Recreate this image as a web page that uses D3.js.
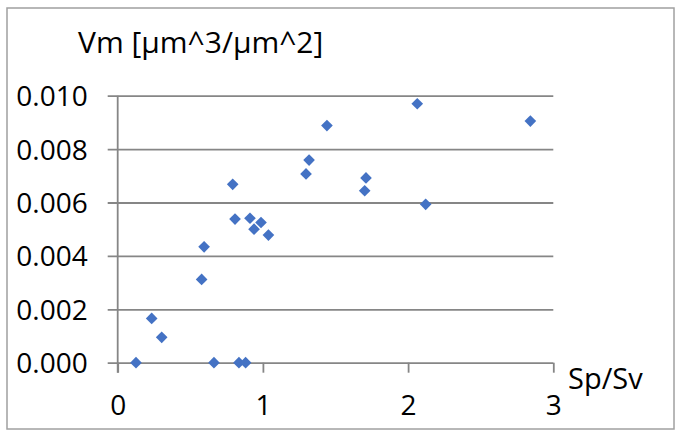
<!DOCTYPE html>
<html>
<head>
<meta charset="utf-8">
<script src="https://cdn.jsdelivr.net/npm/d3@7"></script>
<style>
  body { margin: 0; background: #fff; }
  text { font-family: "Open Sans", sans-serif; fill: #000; }
</style>
</head>
<body>
<div id="chart"></div>
<script>
// data
const spSv = [0.126, 0.234, 0.303, 0.578, 0.595, 0.663, 0.835, 0.881, 0.792, 0.808, 0.911,
              0.939, 0.987, 1.038, 1.297, 1.318, 1.441, 1.701, 1.710, 2.063, 2.121, 2.842];
const vm = [0, 0.00166, 0.00095, 0.00312, 0.00434, 0, 0, 0, 0.00668, 0.00538, 0.00541,
            0.0050, 0.00525, 0.00478, 0.00707, 0.00759, 0.00888, 0.00644, 0.00692, 0.0097, 0.00593, 0.00905];
const xTicks = [0, 1, 2, 3];
const yTicks = [0, 0.002, 0.004, 0.006, 0.008, 0.010];

const W_TOTAL = 682, H_TOTAL = 438;
const MARGIN = { top: 95.7, right: 128.7, bottom: 75.3, left: 117.7 };
const WIDTH = W_TOTAL - MARGIN.left - MARGIN.right;
const HEIGHT = H_TOTAL - MARGIN.top - MARGIN.bottom;
const GRID = '#868686';

let svg = d3.select('#chart')
  .append('svg')
  .attr('width', W_TOTAL)
  .attr('height', H_TOTAL);

// chart border
svg.append('rect')
  .attr('x', 7).attr('y', 8)
  .attr('width', 667).attr('height', 421)
  .attr('fill', 'none')
  .attr('stroke', '#a0a0a0')
  .attr('stroke-width', 1.5);

let g = svg.append('g')
  .attr('transform', 'translate(' + MARGIN.left + ',' + MARGIN.top + ')');

let x = d3.scaleLinear().domain([0, 3]).range([0, WIDTH]);
let y = d3.scaleLinear().domain([0, 0.010]).range([HEIGHT, 0]);

// y gridlines + labels (lines run from the outer tick to the right edge)
let yAxis = g.append('g')
  .attr('transform', 'translate(-10,0)')
  .call(d3.axisLeft(y)
    .tickValues(yTicks)
    .tickFormat(d3.format('.3f'))
    .tickSize(-(WIDTH + 10))
    .tickPadding(20));
yAxis.select('.domain').remove();
yAxis.selectAll('line').attr('stroke', GRID).attr('stroke-width', 1.8);
yAxis.selectAll('text').attr('font-size', 28).attr('dy', '0.36em');

// x axis ticks + labels
let xAxis = g.append('g')
  .attr('transform', 'translate(0,' + HEIGHT + ')')
  .call(d3.axisBottom(x)
    .tickValues(xTicks)
    .tickFormat(d3.format('d'))
    .tickSize(10)
    .tickPadding(22));
xAxis.select('.domain').remove();
xAxis.selectAll('line').attr('stroke', GRID).attr('stroke-width', 1.8);
xAxis.selectAll('text').attr('font-size', 28);

// vertical axis line
g.append('line')
  .attr('x1', x(0)).attr('x2', x(0))
  .attr('y1', y(0.010)).attr('y2', y(0) + 10)
  .attr('stroke', GRID)
  .attr('stroke-width', 1.8);

// points
const pts = spSv.map((d, i) => ({ sx: d, vm: vm[i] }));
g.selectAll('path.pt')
  .data(pts)
  .enter()
  .append('path')
  .attr('class', 'pt')
  .attr('d', d3.symbol(d3.symbolSquare).size(68))
  .attr('transform', (d) => 'translate(' + x(d.sx) + ',' + y(d.vm) + ') rotate(45)')
  .attr('fill', '#4472c4');

// axis titles
svg.append('text')
  .attr('x', 78).attr('y', 53.3)
  .attr('font-size', 30)
  .text('Vm [µm^3/µm^2]');

svg.append('text')
  .attr('x', 568).attr('y', 389)
  .attr('font-size', 29)
  .text('Sp/Sv');
</script>
</body>
</html>
